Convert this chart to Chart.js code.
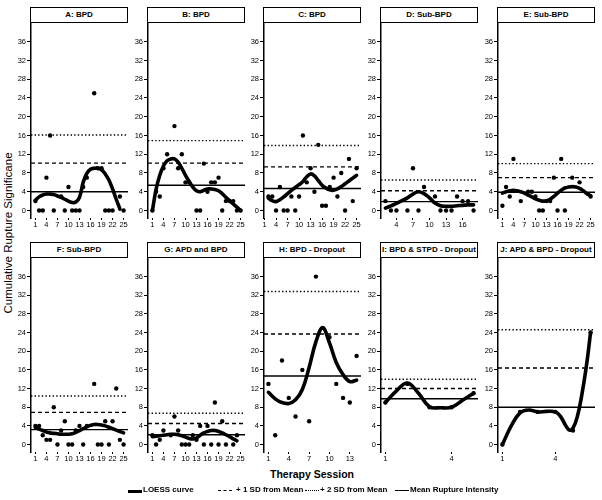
<!DOCTYPE html>
<html><head><meta charset="utf-8">
<script src="https://cdn.jsdelivr.net/npm/chart.js@4.4.1/dist/chart.umd.min.js"></script>
<style>
body{margin:0;background:#fff;width:602px;height:500px;position:relative;overflow:hidden;font-family:'Liberation Sans',Arial,sans-serif;color:#000;}
canvas{position:absolute;}
.strip{position:absolute;box-sizing:border-box;border:1.5px solid #000;background:#fff;font-weight:bold;font-size:8px;text-align:center;white-space:nowrap;overflow:hidden;}
#ytitle{position:absolute;left:8px;top:233px;transform:translate(-50%,-50%) rotate(-90deg);font-size:11.5px;white-space:nowrap;}
#xtitle{position:absolute;left:312px;top:474px;transform:translate(-50%,-50%);font-size:10.5px;font-weight:bold;white-space:nowrap;}
.leg{position:absolute;top:485px;font-size:8px;font-weight:bold;white-space:nowrap;line-height:10px;}
.sample{position:absolute;height:0;}
</style></head>
<body>
<div id="ytitle">Cumulative Rupture Significane</div>
<div id="xtitle">Therapy Session</div>
<script>
// ---------- data ----------
const panelTitles = ["A: BPD","B: BPD","C: BPD","D: Sub-BPD","E: Sub-BPD","F: Sub-BPD","G: APD and BPD","H: BPD - Dropout","I: BPD & STPD - Dropout","J: APD & BPD - Dropout"];
const yTicks = [0,4,8,12,16,20,24,28,32,36];
const xTicks25 = [1,4,7,10,13,16,19,22,25];
const xTicksD = [4,7,10,13,16];
const xTicksH = [1,4,7,10,13];
const xTicksIJ = [1,4];

const A_sessions = [1,2,3,4,5,6,8,9,10,11,12,13,14,15,17,18,19,20,21,22,24,25];
const A_values   = [2,0,0,7,16,0,3,0,5,0,0,0,5,7,25,9,9,0,0,0,3,0];
const A_curveX = [1,2,3,4,5,6,7,8,9,10,11,12,13,14,15,16,17,18,19,20,21,22,23,24];
const A_curveY = [2.2,2.9,3.3,3.5,3.5,3.4,3.1,2.8,2.4,2.0,1.7,1.8,2.8,6.0,7.9,8.8,9.0,9.0,8.7,7.8,6.5,4.6,2.4,0.3];
const A_lines = [4.0,10.1,16.1];

const B_sessions = [1,2,3,4,5,7,8,9,10,11,13,14,15,16,17,18,19,20,21,22,23,24,25];
const B_values   = [0,4,3,9,12,18,9,12,6,6,0,0,10,4,6,6,7,0,2,2,2,0,0];
const B_curveX = [1,2,3,4,5,6,7,8,9,10,11,12,13,14,15,16,17,18,19,20,21,22,23,24,25];
const B_curveY = [0,4.5,7.5,9.5,10.6,11.0,11.0,10.3,9.0,7.5,6.2,5.0,4.2,4.0,4.3,4.6,4.6,4.5,4.2,3.6,2.8,2.1,1.4,0.7,0];
const B_lines = [5.4,10.1,14.9];

const C_sessions = [2,3,4,5,6,7,8,9,10,11,12,13,14,15,16,17,18,19,20,21,22,23,24,25];
const C_values   = [3,3,0,5,0,0,3,0,3,16,6,9,4,14,1,1,5,7,3,8,0,11,2,9];
const C_curveX = [2,3,4,5,6,7,8,9,10,11,12,13,14,15,16,17,18,19,20,21,22,23,24,25];
const C_curveY = [2.6,2.1,1.9,2.3,2.9,3.6,4.3,4.9,5.5,6.2,7.2,7.8,7.4,6.4,5.4,4.8,4.4,4.3,4.6,5.1,5.7,6.3,6.9,7.5];
const C_lines = [4.7,9.3,13.85];

const D_sessions = [2,3,4,6,7,8,9,11,12,13,14,15,16,17,18];
const D_values   = [2,0,0,0,9,0,5,3,0,0,0,3,2,2,0];
const D_curveX = [2,3,4,5,6,7,8,9,10,11,12,13,14,15,16,17,18];
const D_curveY = [0.5,1.0,1.5,2.1,2.7,3.5,4.0,3.6,2.7,1.6,1.0,0.9,0.9,1.0,1.1,1.2,1.2];
const D_lines = [1.9,4.2,6.5];

const E_sessions = [1,2,3,4,6,8,9,10,11,12,13,14,15,16,17,18,20,22,25];
const E_values   = [1,5,3,11,2,4,4,3,0,0,2,2,7,0,11,0,7,6,3];
const E_curveX = [1,2,3,4,5,6,7,8,9,10,11,12,13,14,15,16,17,18,19,20,21,22,23,24,25];
const E_curveY = [3.7,4.0,4.2,4.3,4.2,4.0,3.7,3.3,2.9,2.5,2.2,2.0,2.1,2.4,3.0,3.7,4.3,4.8,5.0,5.1,5.0,4.7,4.2,3.6,3.2];
const E_lines = [3.9,7.0,10.0];

const F_sessions = [1,2,3,4,5,6,7,8,9,10,11,12,13,14,15,17,18,19,20,21,22,23,24,25];
const F_values   = [4,4,2,1,1,8,0,3,5,0,0,3,4,0,4,13,0,0,5,0,5,12,1,0];
const F_curveX = [1,2,3,4,5,6,7,8,9,10,11,12,13,14,15,16,17,18,19,20,21,22,23,24,25];
const F_curveY = [3.6,3.3,3.0,2.7,2.5,2.4,2.3,2.2,2.2,2.2,2.3,2.6,3.0,3.4,3.8,4.1,4.3,4.3,4.2,4.0,3.7,3.4,3.1,2.8,2.5];
const F_lines = [3.2,6.9,10.4];

const G_sessions = [1,2,3,4,6,7,8,9,10,11,12,13,14,15,16,17,18,19,20,21,23,24];
const G_values   = [2,0,1,3,2,6,3,0,0,0,2,1,4,0,4,0,9,0,5,0,0,2];
const G_curveX = [1,2,3,4,5,6,7,8,9,10,11,12,13,14,15,16,17,18,19,20,21,22,23,24];
const G_curveY = [1.7,1.8,1.9,2.0,2.1,2.2,2.2,2.1,1.9,1.6,1.3,1.2,1.4,2.0,2.5,2.8,3.0,3.0,2.8,2.5,2.1,1.7,1.2,0.8];
const G_lines = [2.1,4.5,6.7];

const H_sessions = [1,2,3,4,5,6,7,8,9,10,11,12,13,14];
const H_values   = [13,2,18,10,6,16,5,36,25,23,13,10,9,19];
const H_curveX = [1,2,3,4,5,6,7,8,9,10,11,12,13,14];
const H_curveY = [11.2,9.8,9.0,8.8,9.6,11.8,16.5,22.0,25.0,21.8,17.6,15.0,13.5,13.8];
const H_lines = [14.7,23.7,32.8];

const I_sessions = [1,2,3,4,5];
const I_values   = [9,13,8,8,11];
const I_curveX = [1,1.5,2,2.5,3,3.5,4,4.5,5];
const I_curveY = [9,11.5,13.2,11,8.1,7.9,8,9.5,11];
const I_lines = [9.8,12.0,14.0];

const J_sessions = [1,2,3,4,5,6];
const J_values   = [0,7,7,7,3,24];
const J_curveX = [1,1.5,2,2.5,3,3.5,4,4.3,4.6,4.8,5,5.25,5.5,5.75,6];
const J_curveY = [0,4,6.8,7.4,7.0,7.1,7.0,6.0,4.0,3.1,3.5,6.0,10.6,16.5,24];
const J_lines = [8.0,16.4,24.6];

// ---------- layout ----------
const panels = [
  {s:A_sessions,v:A_values,cx:A_curveX,cy:A_curveY,l:A_lines,xt:xTicks25,xr:[-0.2,26.2]},
  {s:B_sessions,v:B_values,cx:B_curveX,cy:B_curveY,l:B_lines,xt:xTicks25,xr:[-0.2,26.2]},
  {s:C_sessions,v:C_values,cx:C_curveX,cy:C_curveY,l:C_lines,xt:xTicks25,xr:[0.85,26.15]},
  {s:D_sessions,v:D_values,cx:D_curveX,cy:D_curveY,l:D_lines,xt:xTicksD,xr:[1.2,18.8]},
  {s:E_sessions,v:E_values,cx:E_curveX,cy:E_curveY,l:E_lines,xt:xTicks25,xr:[-0.2,26.2]},
  {s:F_sessions,v:F_values,cx:F_curveX,cy:F_curveY,l:F_lines,xt:xTicks25,xr:[-0.2,26.2]},
  {s:G_sessions,v:G_values,cx:G_curveX,cy:G_curveY,l:G_lines,xt:xTicks25,xr:[-0.2,26.2]},
  {s:H_sessions,v:H_values,cx:H_curveX,cy:H_curveY,l:H_lines,xt:xTicksH,xr:[0.35,14.65]},
  {s:I_sessions,v:I_values,cx:I_curveX,cy:I_curveY,l:I_lines,xt:xTicksIJ,xr:[0.8,5.2]},
  {s:J_sessions,v:J_values,cx:J_curveX,cy:J_curveY,l:J_lines,xt:xTicksIJ,xr:[0.75,6.25]}
];
const colLefts = [31,148,264,381,498];
const plotW = 97;
const rowTops = [22,257];
const plotHs = [196,195];
const stripH = 15;
const YAXW = 30, PADT = 8, PADR = 8, XAXH = 14;

Chart.defaults.font.family = "'Liberation Sans', Arial, sans-serif";
Chart.defaults.font.size = 7.5;
Chart.defaults.color = '#000';

panels.forEach((p, i) => {
  const row = Math.floor(i/5), col = i%5;
  const left = colLefts[col], top = rowTops[row], h = plotHs[row];
  const strip = document.createElement('div');
  strip.className = 'strip';
  strip.style.left = (left-1) + 'px';
  strip.style.top = (top-stripH) + 'px';
  strip.style.width = (plotW+1) + 'px';
  strip.style.height = (stripH+1) + 'px';
  strip.style.lineHeight = (stripH-2) + 'px';
  strip.textContent = panelTitles[i];
  const cv = document.createElement('canvas');
  cv.width = YAXW + plotW + PADR;
  cv.height = PADT + h + XAXH;
  cv.style.left = (left - YAXW) + 'px';
  cv.style.top = (top - PADT) + 'px';
  cv.style.width = cv.width + 'px';
  cv.style.height = cv.height + 'px';
  document.body.appendChild(cv);
  document.body.appendChild(strip);
  const [xmin, xmax] = p.xr;
  const hline = (val, dash, order) => ({
    data: [{x:xmin,y:val},{x:xmax,y:val}], showLine:true, pointRadius:0,
    borderColor:'#000', borderWidth:1.4, borderDash:dash, order:order, tension:0
  });
  new Chart(cv, {
    type:'scatter',
    data:{datasets:[
      {data:p.cx.map((x,k)=>({x:x,y:p.cy[k]})), showLine:true, pointRadius:0, borderColor:'#000', borderWidth:3.6, tension:0.4, order:0, borderCapStyle:'round', borderJoinStyle:'round'},
      {data:p.s.map((x,k)=>({x:x,y:p.v[k]})), pointRadius:2.2, pointBackgroundColor:'#000', pointBorderWidth:0, order:1},
      hline(p.l[0], [], 2),
      hline(p.l[1], [4,3], 3),
      hline(p.l[2], [1.4,2.2], 4)
    ]},
    options:{
      responsive:false, animation:false, devicePixelRatio:1,
      layout:{padding:{top:PADT,right:PADR,left:0,bottom:0}},
      plugins:{legend:{display:false},tooltip:{enabled:false}},
      scales:{
        x:{type:'linear', min:xmin, max:xmax,
           afterBuildTicks:(s)=>{s.ticks = p.xt.map(v=>({value:v}));},
           afterFit:(s)=>{s.height = XAXH;},
           border:{display:false},
           grid:{drawOnChartArea:false, drawTicks:true, tickLength:2, color:'#000', lineWidth:1},
           ticks:{autoSkip:false, maxRotation:0, padding:0, font:{size:7.5}}},
        y:{type:'linear', min:-1.6, max:40.2,
           afterBuildTicks:(s)=>{s.ticks = yTicks.map(v=>({value:v}));},
           afterFit:(s)=>{s.width = YAXW;},
           border:{display:true, color:'#000', width:1.5},
           grid:{drawOnChartArea:false, drawTicks:true, tickLength:4, color:'#000', lineWidth:1},
           ticks:{autoSkip:false, padding:1, font:{size:7.5}}}
      }
    }
  });
});

// legend
function addLeg(x, text){const d=document.createElement('div');d.className='leg';d.style.left=x+'px';d.textContent=text;document.body.appendChild(d);}
function addSample(x, w, style){const d=document.createElement('div');d.className='sample';d.style.left=x+'px';d.style.top='490px';d.style.width=w+'px';d.style.borderTop=style;document.body.appendChild(d);}
addSample(128,14,'3.5px solid #000'); addLeg(143,'LOESS curve');
addSample(218,14,'1.5px dashed #000'); addLeg(236,'+ 1 SD from Mean');
addSample(305,14,'1.5px dotted #000'); addLeg(320,'+ 2 SD from Mean');
addSample(395,14,'1.5px solid #000'); addLeg(410,'Mean Rupture Intensity');
</script>
</body></html>
